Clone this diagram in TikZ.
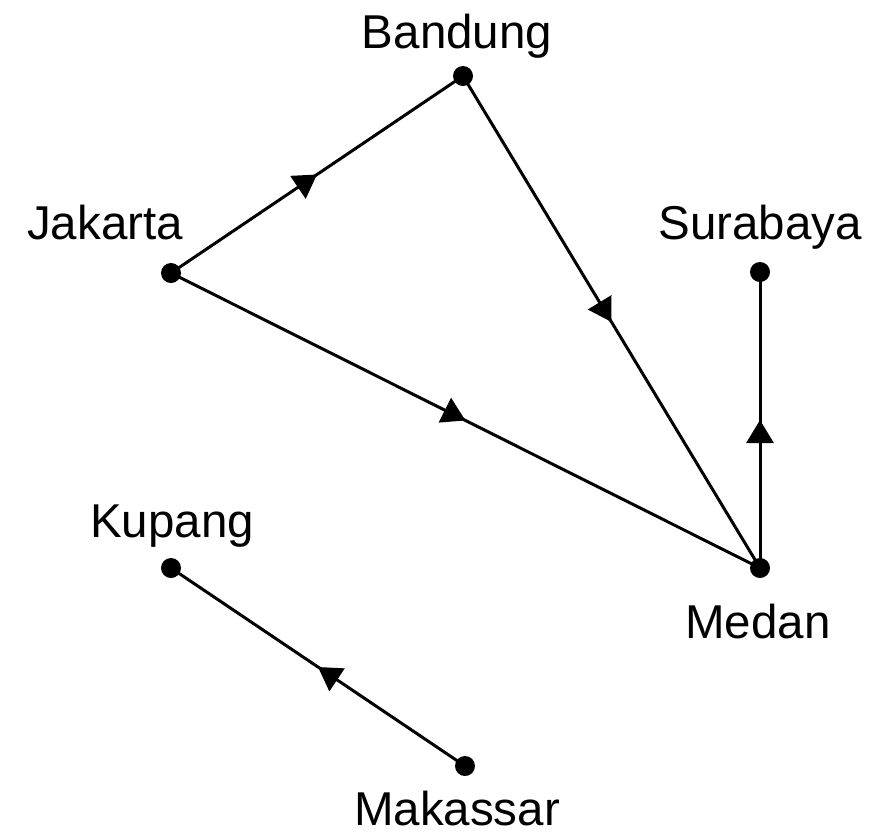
\documentclass[tikz,border=0pt]{standalone}
\usepackage{fontspec}
\setmainfont{Liberation Sans}
\usetikzlibrary{arrows.meta,decorations.markings}

\tikzset{
  city/.style={circle, fill=black, inner sep=0pt, minimum size=20pt},
  cityname/.style={anchor=base, inner sep=0pt, font=\fontsize{47.5}{57}\selectfont},
  road/.style={line width=3pt, postaction={decorate},
    decoration={markings, mark=at position 0.5 with {\arrow{Triangle[length=23pt,width=27pt]}}}}
}

\begin{document}
\begin{tikzpicture}[x=1pt,y=-1pt]
    \useasboundingbox (0,0) rectangle (887,831);
    % cities
    \node[city] (bandung) at (463,76) {};
    \node[city] (jakarta) at (171,273) {};
    \node[city] (surabaya) at (760,272) {};
    \node[city] (medan) at (760,568) {};
    \node[city] (kupang) at (171,568) {};
    \node[city] (makassar) at (465,766) {};
    % names
    \node[cityname] (bandungname) at (457,48) {Bandung};
    \node[cityname] (jakartaname) at (105,239) {Jakarta};
    \node[cityname] (surabayaname) at (760,239) {Surabaya};
    \node[cityname] (kupangname) at (172,537) {Kupang};
    \node[cityname] (medanname) at (758,638) {Medan};
    \node[cityname] (makassarname) at (457,825) {Makassar};
    % roads
    \draw[road] (jakarta.center) -- (bandung.center);
    \draw[road] (bandung.center) -- (medan.center);
    \draw[road] (jakarta.center) -- (medan.center);
    \draw[road] (medan.center) -- (surabaya.center);
    \draw[road] (makassar.center) -- (kupang.center);
\end{tikzpicture}
\end{document}
